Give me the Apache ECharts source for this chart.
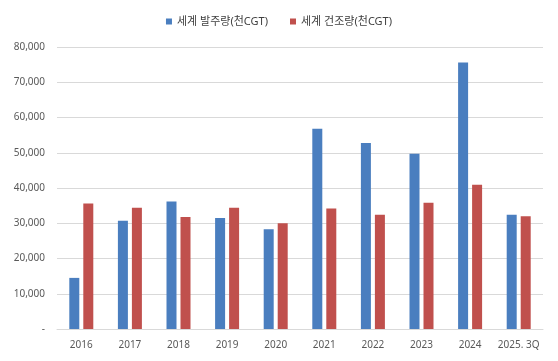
<!DOCTYPE html>
<html><head><meta charset="utf-8">
<script src="https://cdn.jsdelivr.net/npm/echarts@6/dist/echarts.min.js"></script>
<style>html,body{margin:0;padding:0;background:#fff}#c{width:558px;height:361px}</style>
</head><body><div id="c"></div>
<script>
var categories = ['2016','2017','2018','2019','2020','2021','2022','2023','2024','2025. 3Q'];
var orders = [14500, 30700, 36200, 31500, 28300, 56800, 52800, 49700, 75600, 32400];
var deliveries = [35600, 34400, 31800, 34400, 30000, 34200, 32400, 35800, 40900, 32000];
var seriesNames = ['세계 발주량(천CGT)', '세계 건조량(천CGT)'];
var font = '"Noto Sans", "Noto Sans CJK KR", sans-serif';
var chart = echarts.init(document.getElementById('c'));
chart.setOption({
  animation: false,
  textStyle: {fontFamily: font},
  legend: {
    top: 11, left: 'center', itemWidth: 6, itemHeight: 6, itemGap: 22,
    icon: 'rect',
    textStyle: {fontSize: 11, color: '#404040', fontFamily: font},
    data: seriesNames
  },
  grid: {left: 57, right: 15, top: 47, bottom: 32, containLabel: false},
  xAxis: {
    type: 'category', data: categories,
    axisLine: {lineStyle: {color: '#d9d9d9'}},
    axisTick: {show: false},
    axisLabel: {color: '#595959', fontSize: 10, margin: 11, fontFamily: font, interval: 0}
  },
  yAxis: {
    type: 'value', min: 0, max: 80000, interval: 10000,
    axisLine: {show: false}, axisTick: {show: false},
    splitLine: {lineStyle: {color: '#d9d9d9'}},
    axisLabel: {color: '#595959', fontSize: 10, margin: 12, fontFamily: font,
      formatter: function(v){ return v === 0 ? '-' : v.toLocaleString('en-US'); }}
  },
  series: [
    {name: seriesNames[0], type: 'bar', data: orders, barWidth: 10, barGap: '40%', itemStyle: {color: '#4a7ebf'}},
    {name: seriesNames[1], type: 'bar', data: deliveries, barWidth: 10, itemStyle: {color: '#c0504d'}}
  ]
});
</script></body></html>
